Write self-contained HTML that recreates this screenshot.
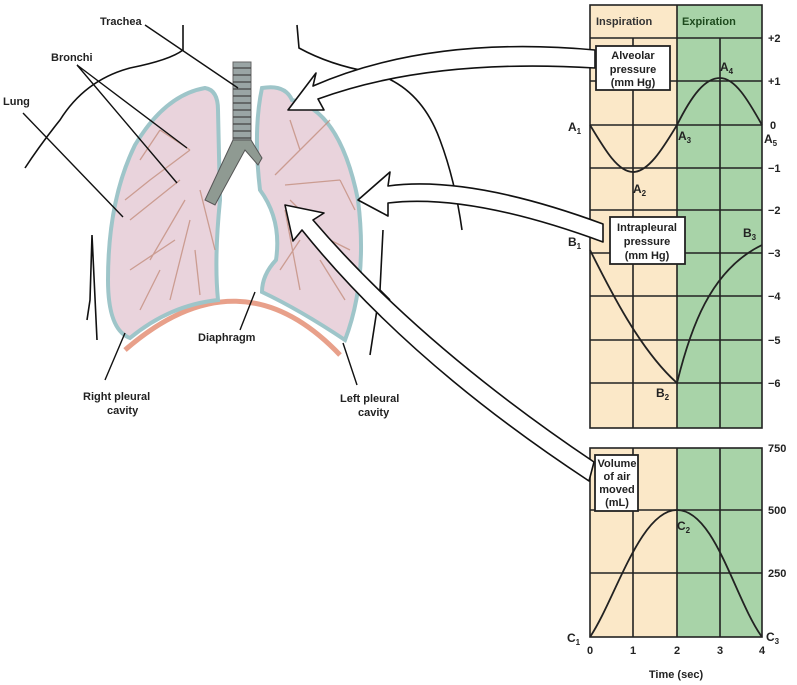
<!DOCTYPE html>
<html><head><style>
html,body{margin:0;padding:0;background:#fff;}
svg{display:block;font-family:"Liberation Sans",sans-serif;font-weight:bold;}
</style></head><body>
<svg width="797" height="685" viewBox="0 0 797 685" xmlns="http://www.w3.org/2000/svg">
<g fill="none" stroke="#111" stroke-width="1.6">
<path d="M183 25 L183 50 Q170 60 130 68 Q85 80 60 120 Q40 145 25 168"/>
<path d="M297 25 L299 48 Q330 65 370 72 Q420 85 440 140 Q455 180 462 230"/>
<path d="M92 235 L90 300 L87 320 M92 235 L97 340"/>
<path d="M383 230 L380 290 L370 355 M380 290 L390 300"/>
</g>
<path d="M125 350 Q240 250 340 355" fill="none" stroke="#e8a08a" stroke-width="5"/>
<g stroke="#9ec5c9" stroke-width="4" fill="#e9d3dc">
<path d="M205 88 Q218 90 218 110 L220 200 Q214 260 218 300 Q170 305 130 338 Q108 330 108 280 Q108 200 135 145 Q165 95 205 88Z"/>
<path d="M262 88 Q285 84 292 100 Q340 110 358 200 Q368 280 345 340 Q300 310 262 292 Q262 275 276 260 Q282 220 260 190 Q253 130 262 88Z"/>
</g>
<g stroke="#c08a78" stroke-width="1.3" fill="none" opacity="0.75">
<path d="M190 150 L160 130 M190 150 L150 180 M180 180 L130 220 M185 200 L150 260 M190 220 L170 300 M200 190 L215 250 M160 130 L140 160 M150 180 L125 200 M175 240 L130 270 M160 270 L140 310 M195 250 L200 295"/>
<path d="M275 175 L310 140 M285 185 L340 180 M290 200 L330 240 M285 210 L300 290 M310 140 L330 120 M340 180 L355 210 M300 240 L280 270 M320 260 L345 300 M300 150 L290 120 M330 240 L350 250"/>
</g>
<rect x="233" y="62" width="18" height="80" fill="#9aa5a5" stroke="#666"/>
<g stroke="#444" stroke-width="1.2">
<path d="M233 68h18M233 75h18M233 82h18M233 89h18M233 96h18M233 103h18M233 110h18M233 117h18M233 124h18M233 131h18M233 138h18"/>
</g>
<path d="M233 140 L205 200 L215 205 L245 150 L258 165 L262 158 L251 140Z" fill="#8f9a92" stroke="#555"/>
<g stroke="#111" stroke-width="1.4" fill="none">
<path d="M145 25 L238 88"/>
<path d="M77 65 L187 148 M77 65 L177 183"/>
<path d="M23 113 L123 217"/>
<path d="M255 292 L240 330"/>
<path d="M125 333 L105 380"/>
<path d="M343 343 L357 385"/>
</g>
<g font-size="11" fill="#222">
<text x="100" y="25">Trachea</text>
<text x="51" y="61">Bronchi</text>
<text x="3" y="105">Lung</text>
<text x="198" y="341">Diaphragm</text>
<text x="83" y="400">Right pleural</text>
<text x="107" y="414">cavity</text>
<text x="340" y="402">Left pleural</text>
<text x="358" y="416">cavity</text>
</g>
<rect x="590" y="5" width="87" height="423" fill="#fbe8c8"/>
<rect x="677" y="5" width="85" height="423" fill="#a8d3a8"/>
<g stroke="#222" stroke-width="1.6" fill="none">
<rect x="590" y="5" width="172" height="423"/>
<path d="M677 5V428M633 38V428M720 38V428"/>
<path d="M590 38H762M590 81H762M590 125H762M590 168H762M590 210H762M590 253H762M590 296H762M590 340H762M590 383H762"/>
</g>
<text x="596" y="25" font-size="11" fill="#333">Inspiration</text>
<text x="682" y="25" font-size="11" fill="#1d4a1d">Expiration</text>
<rect x="590" y="448" width="87" height="189" fill="#fbe8c8"/>
<rect x="677" y="448" width="85" height="189" fill="#a8d3a8"/>
<g stroke="#222" stroke-width="1.6" fill="none">
<rect x="590" y="448" width="172" height="189"/>
<path d="M677 448V637M633 448V637M720 448V637M590 510H762M590 573H762"/>
</g>
<g stroke="#222" stroke-width="1.8" fill="none">
<path d="M590 125 C605 150 618 172 633 172 C648 172 662 150 677 125 C692 95 705 78 720 78 C735 78 748 100 762 125"/>
<path d="M590 250 C610 290 640 350 677 383 C690 330 710 270 762 245"/>
<path d="M590 637 C615 600 640 510 677 510 C715 510 735 600 762 637"/>
</g>
<g fill="#fff" stroke="#111" stroke-width="1.6" stroke-linejoin="round">
<path d="M595 50 Q430 35 313 86 L316 73 L288 110 L324 110 L318 99 Q430 58 595 68Z"/>
<path d="M603 224 Q470 175 388 186 L390 172 L358 200 L388 216 L388 203 Q470 193 603 242Z"/>
<path d="M594 462 Q420 345 313 220 L324 213 L285 205 L293 241 L302 230 Q408 362 589 481Z"/>
</g>
<g fill="#fff" stroke="#222" stroke-width="1.8">
<rect x="596" y="46" width="74" height="44"/>
<rect x="610" y="217" width="75" height="47"/>
<rect x="595" y="455" width="43" height="56"/>
</g>
<g font-size="11" fill="#222" text-anchor="middle">
<text x="633" y="59">Alveolar</text><text x="633" y="73">pressure</text><text x="633" y="86">(mm Hg)</text>
<text x="647" y="231">Intrapleural</text><text x="647" y="245">pressure</text><text x="647" y="259">(mm Hg)</text>
<text x="617" y="467">Volume</text><text x="617" y="480">of air</text><text x="617" y="493">moved</text><text x="617" y="506">(mL)</text>
</g>
<g font-size="12" fill="#222">
<text x="568" y="131">A<tspan font-size="8" dy="3">1</tspan></text>
<text x="633" y="193">A<tspan font-size="8" dy="3">2</tspan></text>
<text x="678" y="140">A<tspan font-size="8" dy="3">3</tspan></text>
<text x="720" y="71">A<tspan font-size="8" dy="3">4</tspan></text>
<text x="764" y="143">A<tspan font-size="8" dy="3">5</tspan></text>
<text x="568" y="246">B<tspan font-size="8" dy="3">1</tspan></text>
<text x="656" y="397">B<tspan font-size="8" dy="3">2</tspan></text>
<text x="743" y="237">B<tspan font-size="8" dy="3">3</tspan></text>
<text x="677" y="530">C<tspan font-size="8" dy="3">2</tspan></text>
<text x="567" y="642">C<tspan font-size="8" dy="3">1</tspan></text>
<text x="766" y="641">C<tspan font-size="8" dy="3">3</tspan></text>
</g>
<g font-size="11" fill="#222">
<text x="768" y="42">+2</text><text x="768" y="85">+1</text><text x="770" y="129">0</text>
<text x="768" y="172">−1</text><text x="768" y="214">−2</text><text x="768" y="257">−3</text>
<text x="768" y="300">−4</text><text x="768" y="344">−5</text><text x="768" y="387">−6</text>
<text x="768" y="452">750</text><text x="768" y="514">500</text><text x="768" y="577">250</text>
</g>
<g font-size="11" fill="#222" text-anchor="middle">
<text x="590" y="654">0</text><text x="633" y="654">1</text><text x="677" y="654">2</text><text x="720" y="654">3</text><text x="762" y="654">4</text>
<text x="676" y="678">Time (sec)</text>
</g>
</svg>
</body></html>
